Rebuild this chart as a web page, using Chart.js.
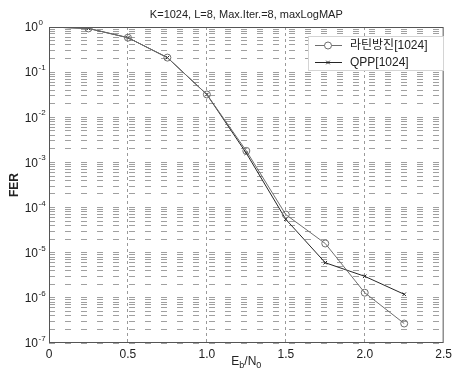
<!DOCTYPE html>
<html>
<head>
<meta charset="utf-8">
<script src="https://cdn.jsdelivr.net/npm/chart.js@4.4.1/dist/chart.umd.min.js"></script>
<style>
html, body { margin: 0; padding: 0; background: #fff; }
#wrap { width: 456px; height: 380px; }
</style>
</head>
<body>
<div id="wrap"><canvas id="ferChart" width="456" height="380"></canvas></div>
<script>
// Eb/N0 points (dB) and frame error rates
const ebn0 = [0, 0.25, 0.5, 0.75, 1.0, 1.25, 1.5, 1.75, 2.0, 2.25];
const latinFer = [1.0, 0.93, 0.58, 0.21, 0.032, 1.8e-3, 7e-5, 1.6e-5, 1.3e-6, 2.7e-7];
const qppFer = [1.0, 0.93, 0.58, 0.21, 0.032, 1.6e-3, 5.5e-5, 6e-6, 3e-6, 1.2e-6];

const seriesNames = ['라틴방진[1024]', 'QPP[1024]'];
const xTicks = [0, 0.5, 1, 1.5, 2, 2.5];
const yExponents = [0, -1, -2, -3, -4, -5, -6, -7];
const titleText = 'K=1024, L=8, Max.Iter.=8, maxLogMAP';

const FONT = '"Liberation Sans", Arial, "Noto Sans CJK KR", sans-serif';

// draws title, axis labels with super/subscripts, legend and the axes box
const decorations = {
    id: 'decorations',
    afterDraw(chart) {
        const ctx = chart.ctx;
        const area = chart.chartArea;
        const yScale = chart.scales.y;
        ctx.save();
        ctx.fillStyle = '#222';

        // title
        ctx.font = '11px ' + FONT;
        ctx.textAlign = 'center';
        ctx.textBaseline = 'middle';
        ctx.fillText(titleText, (area.left + area.right) / 2, 15);

        // y tick labels 10^n
        yExponents.forEach(e => {
            const y = yScale.getPixelForValue(Math.pow(10, e));
            ctx.font = '12px ' + FONT;
            ctx.textAlign = 'right';
            ctx.textBaseline = 'middle';
            ctx.fillText('10', 38, y + 1);
            ctx.font = '8px ' + FONT;
            ctx.textAlign = 'left';
            ctx.textBaseline = 'alphabetic';
            ctx.fillText(e === 0 ? '0' : '-' + (-e), 38.5, y - 2);
        });

        // y axis title
        ctx.save();
        ctx.translate(15, (area.top + area.bottom) / 2);
        ctx.rotate(-Math.PI / 2);
        ctx.font = 'bold 12px ' + FONT;
        ctx.textAlign = 'center';
        ctx.textBaseline = 'middle';
        ctx.fillText('FER', 0, 0);
        ctx.restore();

        // x axis title E_b/N_0
        const parts = [['E', 12, 0], ['b', 9, 3], ['/N', 12, 0], ['0', 9, 3]];
        let total = 0;
        parts.forEach(p => { ctx.font = p[1] + 'px ' + FONT; total += ctx.measureText(p[0]).width; });
        let x = (area.left + area.right) / 2 - total / 2;
        ctx.textAlign = 'left';
        ctx.textBaseline = 'alphabetic';
        parts.forEach(p => {
            ctx.font = p[1] + 'px ' + FONT;
            ctx.fillText(p[0], x, 365 + p[2]);
            x += ctx.measureText(p[0]).width;
        });

        // axes box
        ctx.strokeStyle = '#555';
        ctx.lineWidth = 1;
        ctx.setLineDash([]);
        ctx.strokeRect(area.left + 0.5, area.top + 0.5, area.right - area.left - 1, area.bottom - area.top - 1);

        // legend
        const lx = 308, ly = 36, lw = 135, lh = 34;
        ctx.fillStyle = '#fff';
        ctx.fillRect(lx, ly, lw, lh);
        ctx.strokeStyle = '#d4d4d4';
        ctx.strokeRect(lx + 0.5, ly + 0.5, lw, lh);
        chart.data.datasets.forEach((ds, i) => {
            const ry = ly + 9 + i * 17;
            ctx.strokeStyle = ds.borderColor;
            ctx.lineWidth = 1;
            ctx.beginPath();
            ctx.moveTo(315, ry + 0.5);
            ctx.lineTo(342, ry + 0.5);
            ctx.stroke();
            Chart.helpers.drawPoint(ctx, {
                pointStyle: ds.pointStyle,
                radius: ds.legendRadius,
                borderWidth: 1,
                rotation: 0
            }, 328, ry + 0.5);
            ctx.fillStyle = '#222';
            ctx.font = '12px ' + FONT;
            ctx.textAlign = 'left';
            ctx.textBaseline = 'middle';
            ctx.fillText(seriesNames[i], 350, ry + 1);
        });
        ctx.restore();
    }
};

const ctx = document.getElementById('ferChart').getContext('2d');
const chart = new Chart(ctx, {
    type: 'line',
    data: {
        datasets: [{
            label: seriesNames[0],
            data: ebn0.map((x, i) => ({ x: x, y: latinFer[i] })),
            borderColor: '#6e6e6e',
            borderWidth: 1,
            pointStyle: 'circle',
            legendRadius: 3.5,
            pointRadius: c => c.dataIndex === 0 ? 0 : 3.5,
            pointBorderColor: '#6e6e6e',
            pointBackgroundColor: 'rgba(0,0,0,0)',
            pointBorderWidth: 1,
            tension: 0
        }, {
            label: seriesNames[1],
            data: ebn0.map((x, i) => ({ x: x, y: qppFer[i] })),
            borderColor: '#262626',
            borderWidth: 1,
            pointStyle: 'crossRot',
            legendRadius: 2.5,
            pointRadius: c => c.dataIndex === 0 ? 0 : 2.5,
            pointBorderColor: '#262626',
            pointBorderWidth: 1,
            tension: 0
        }]
    },
    options: {
        responsive: false,
        devicePixelRatio: 1,
        animation: false,
        layout: { padding: { top: 27, right: 9, left: 0, bottom: 0 } },
        plugins: {
            legend: { display: false },
            title: { display: false },
            tooltip: { enabled: false }
        },
        scales: {
            x: {
                type: 'linear',
                min: 0,
                max: 2.5,
                afterBuildTicks: scale => { scale.ticks = xTicks.map(v => ({ value: v })); },
                afterFit: scale => { scale.height = 37; },
                ticks: {
                    color: '#222',
                    padding: 4,
                    font: { family: FONT, size: 12 },
                    maxRotation: 0
                },
                grid: {
                    color: ctx => (ctx.tick && (ctx.tick.value === 0 || ctx.tick.value === 2.5)) ? 'rgba(0,0,0,0)' : '#9a9a9a',
                    drawTicks: false
                },
                border: { display: false, dash: [3, 3] }
            },
            y: {
                type: 'logarithmic',
                min: 1e-7,
                max: 1,
                afterBuildTicks: scale => {
                    const t = [];
                    for (let e = -7; e < 0; e++) {
                        for (let m = 1; m <= 9; m++) t.push({ value: m * Math.pow(10, e) });
                    }
                    t.push({ value: 1 });
                    scale.ticks = t;
                },
                afterFit: scale => { scale.width = 49; },
                ticks: { display: false, autoSkip: false },
                grid: { color: '#a0a0a0', drawTicks: false },
                border: { display: false, dash: [6, 10] }
            }
        }
    },
    plugins: [decorations]
});
</script>
</body>
</html>
